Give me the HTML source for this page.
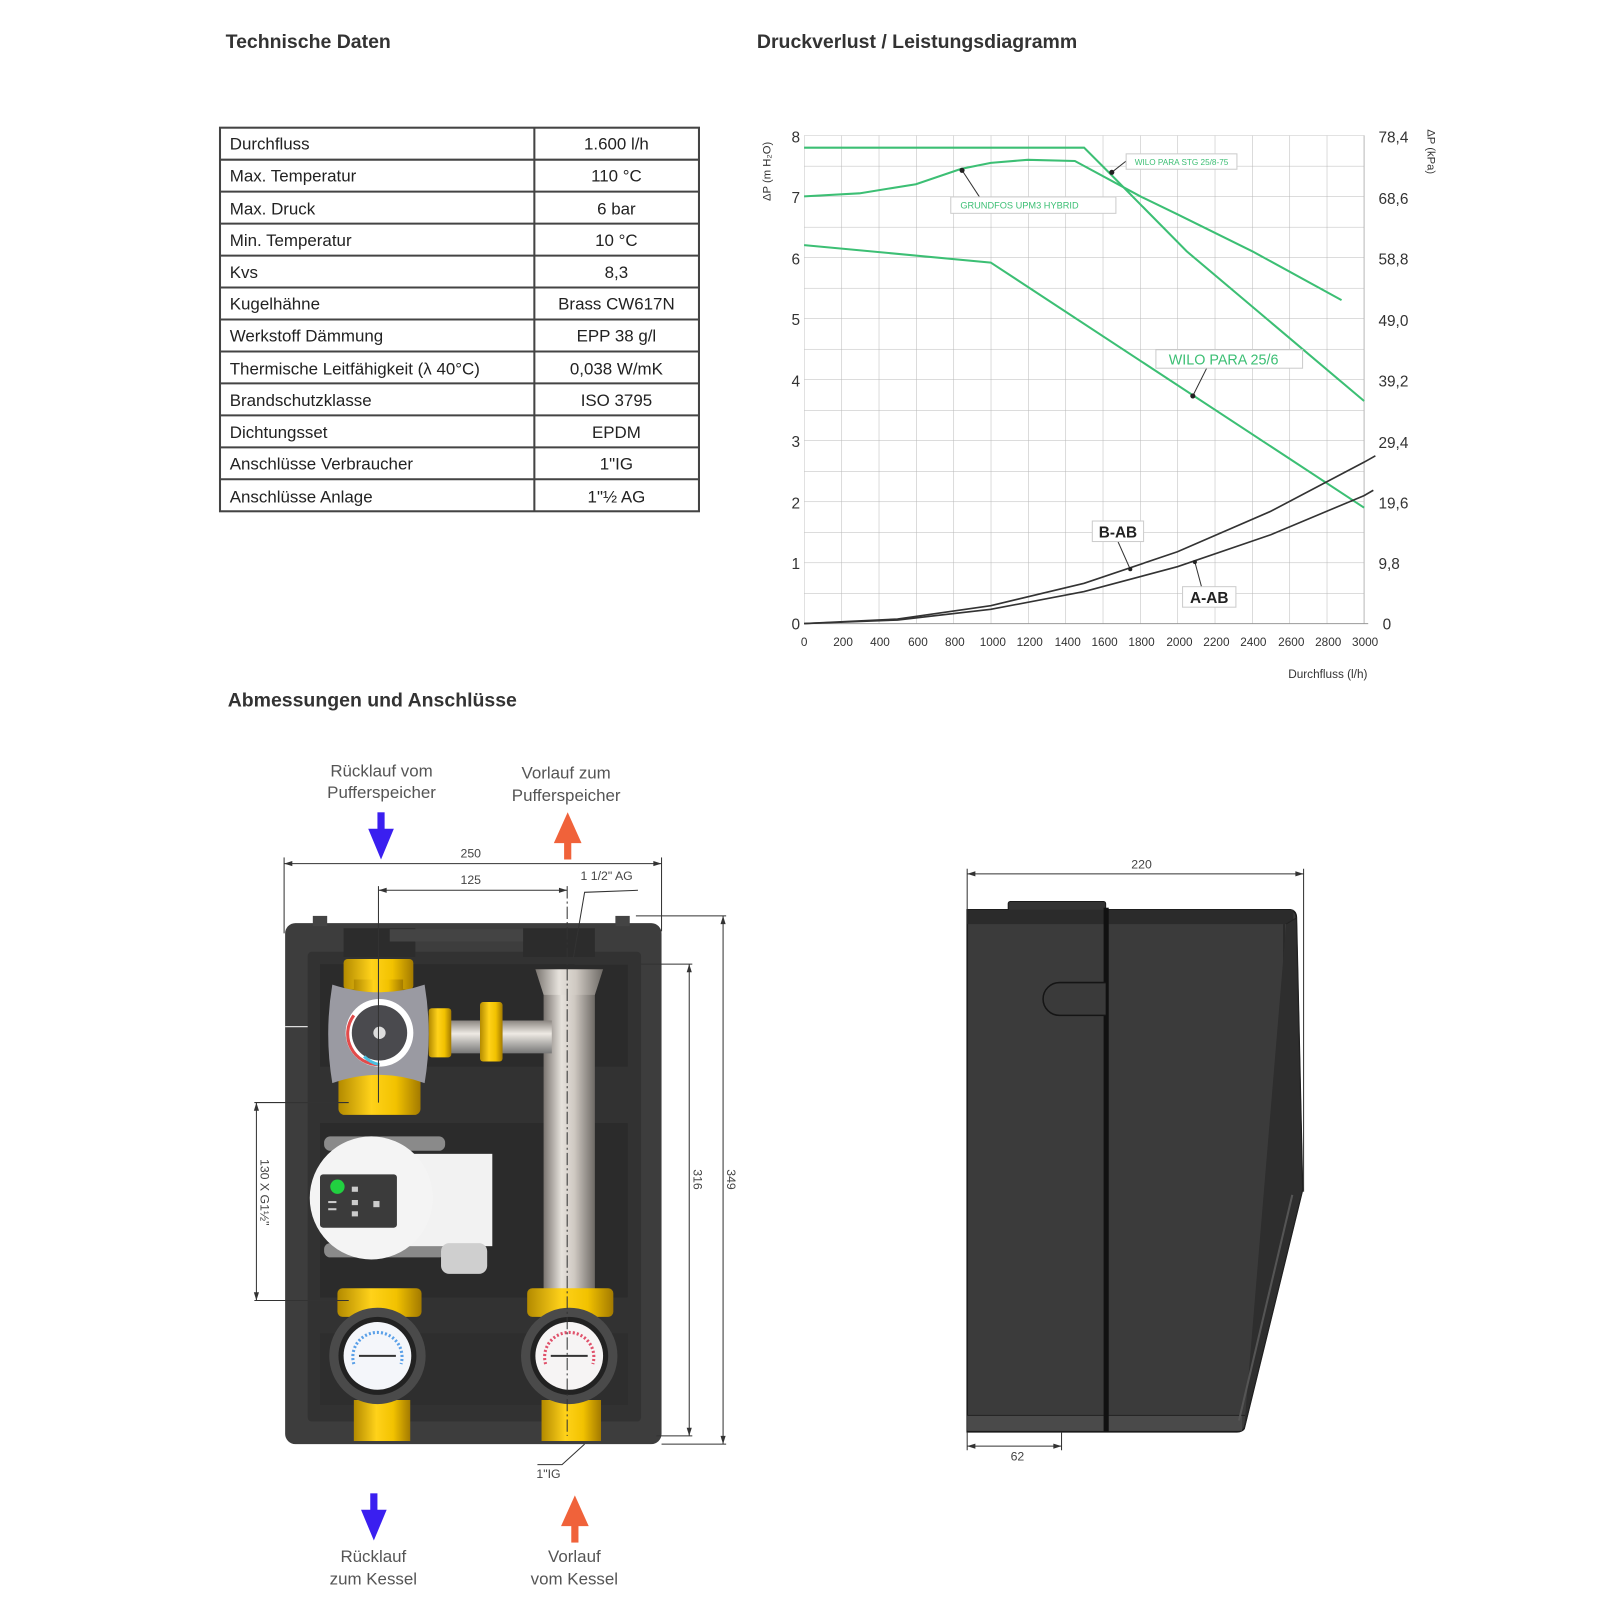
<!DOCTYPE html>
<html><head><meta charset="utf-8"><style>
html,body{margin:0;padding:0;background:#fff;}
svg{display:block;}
text{font-family:"Liberation Sans",sans-serif;}
</style></head><body>
<svg width="1600" height="1600" viewBox="0 0 1560 1560" xmlns="http://www.w3.org/2000/svg">
<defs>
<pattern id="grid" x="784" y="132" width="36.4" height="29.75" patternUnits="userSpaceOnUse">
<path d="M0 0V29.75M0 0H36.4" stroke="#b8b8b8" stroke-width="1" fill="none"/>
</pattern>
<linearGradient id="pipeV" x1="0" x2="1" y1="0" y2="0">
<stop offset="0" stop-color="#7a7570"/><stop offset="0.35" stop-color="#e6e2dc"/><stop offset="0.6" stop-color="#cfc9c2"/><stop offset="1" stop-color="#6e6a66"/>
</linearGradient>
<linearGradient id="pipeH" x1="0" x2="0" y1="0" y2="1">
<stop offset="0" stop-color="#8a8580"/><stop offset="0.4" stop-color="#eeeae4"/><stop offset="1" stop-color="#777"/>
</linearGradient>
<linearGradient id="brass" x1="0" x2="1" y1="0" y2="0">
<stop offset="0" stop-color="#b38a00"/><stop offset="0.4" stop-color="#ffd21a"/><stop offset="0.7" stop-color="#f2c200"/><stop offset="1" stop-color="#a37a00"/>
</linearGradient>
</defs>

<text x="220" y="47" font-size="19" font-weight="bold" fill="#333">Technische Daten</text>
<text x="738" y="47" font-size="19" font-weight="bold" fill="#333">Druckverlust / Leistungsdiagramm</text>
<text x="222" y="689" font-size="19" font-weight="bold" fill="#333">Abmessungen und Anschlüsse</text>

<g font-size="16.5" fill="#222">
<rect x="214.5" y="124.5" width="467" height="374" fill="#fff" stroke="#444" stroke-width="2"/>
<line x1="521" y1="124" x2="521" y2="498" stroke="#444" stroke-width="2"/>
<g stroke="#444" stroke-width="2">
<line x1="214" x2="682" y1="155.7" y2="155.7"/><line x1="214" x2="682" y1="186.8" y2="186.8"/>
<line x1="214" x2="682" y1="218" y2="218"/><line x1="214" x2="682" y1="249.2" y2="249.2"/>
<line x1="214" x2="682" y1="280.3" y2="280.3"/><line x1="214" x2="682" y1="311.5" y2="311.5"/>
<line x1="214" x2="682" y1="342.7" y2="342.7"/><line x1="214" x2="682" y1="373.8" y2="373.8"/>
<line x1="214" x2="682" y1="405" y2="405"/><line x1="214" x2="682" y1="436.2" y2="436.2"/>
<line x1="214" x2="682" y1="467.3" y2="467.3"/>
</g>
<g>
<text x="224" y="146">Durchfluss</text><text x="224" y="177">Max. Temperatur</text>
<text x="224" y="209">Max. Druck</text><text x="224" y="240">Min. Temperatur</text>
<text x="224" y="271">Kvs</text><text x="224" y="302">Kugelhähne</text>
<text x="224" y="333">Werkstoff Dämmung</text><text x="224" y="365">Thermische Leitfähigkeit (λ 40°C)</text>
<text x="224" y="396">Brandschutzklasse</text><text x="224" y="427">Dichtungsset</text>
<text x="224" y="458">Anschlüsse Verbraucher</text><text x="224" y="490">Anschlüsse Anlage</text>
</g>
<g text-anchor="middle">
<text x="601" y="146">1.600 l/h</text><text x="601" y="177">110 °C</text>
<text x="601" y="209">6 bar</text><text x="601" y="240">10 °C</text>
<text x="601" y="271">8,3</text><text x="601" y="302">Brass CW617N</text>
<text x="601" y="333">EPP 38 g/l</text><text x="601" y="365">0,038 W/mK</text>
<text x="601" y="396">ISO 3795</text><text x="601" y="427">EPDM</text>
<text x="601" y="458">1"IG</text><text x="601" y="490">1"½ AG</text>
</g>
</g>

<rect x="784" y="132" width="546" height="476" fill="url(#grid)"/>
<line x1="1330" y1="132" x2="1330" y2="608" stroke="#b8b8b8"/>
<line x1="784" y1="608" x2="1334" y2="608" stroke="#999"/>
<g font-size="15" fill="#333" text-anchor="end">
<text x="780" y="139">8</text><text x="780" y="198">7</text><text x="780" y="258">6</text><text x="780" y="317">5</text>
<text x="780" y="377">4</text><text x="780" y="436">3</text><text x="780" y="496">2</text><text x="780" y="555">1</text><text x="780" y="614">0</text>
</g>
<g font-size="15" fill="#333">
<text x="1344" y="139">78,4</text><text x="1344" y="199">68,6</text><text x="1344" y="258">58,8</text><text x="1344" y="318">49,0</text>
<text x="1344" y="377">39,2</text><text x="1344" y="437">29,4</text><text x="1344" y="496">19,6</text><text x="1344" y="555">9,8</text><text x="1348" y="614">0</text>
</g>
<g font-size="11.5" fill="#333" text-anchor="middle">
<text x="784" y="630">0</text><text x="822" y="630">200</text><text x="858" y="630">400</text><text x="895" y="630">600</text>
<text x="931" y="630">800</text><text x="968" y="630">1000</text><text x="1004" y="630">1200</text><text x="1041" y="630">1400</text>
<text x="1077" y="630">1600</text><text x="1113" y="630">1800</text><text x="1150" y="630">2000</text><text x="1186" y="630">2200</text>
<text x="1222" y="630">2400</text><text x="1259" y="630">2600</text><text x="1295" y="630">2800</text><text x="1331" y="630">3000</text>
</g>
<text x="1256" y="661" font-size="11.5" fill="#333">Durchfluss  (l/h)</text>
<text transform="translate(751,196) rotate(-90)" font-size="11" fill="#333">ΔP (m H₂O)</text>
<text transform="translate(1392,126) rotate(90)" font-size="11" fill="#333">ΔP (kPa)</text>

<g fill="none" stroke="#3cbf74" stroke-width="2">
<polyline points="784,144 1057,144 1084,171 1157,245 1330,391"/>
<polyline points="784,191.5 838,188.5 893,179.6 937,164.7 966,158.8 1002,155.8 1048,157 1112,191.5 1148,209 1221,245 1308,292.6"/>
<polyline points="784,239 966,256 1330,495"/>
</g>
<g fill="none" stroke="#333" stroke-width="1.6">
<polyline points="784,608 875,603.6 966,590.5 1057,568.7 1148,538 1239,498.5 1330,450.6 1341,444.4"/>
<polyline points="784,608 875,604.5 966,594.1 1057,576.8 1148,552.5 1239,521.4 1330,483.2 1339,478"/>
</g>
<g stroke="#333" stroke-width="1" fill="none">
<line x1="938" y1="166" x2="955" y2="192"/><line x1="1084" y1="168" x2="1098" y2="157"/>
<line x1="1163" y1="386" x2="1177" y2="358"/><line x1="1102" y1="555" x2="1090" y2="528"/>
<line x1="1165" y1="548" x2="1172" y2="574"/>
</g>
<g fill="#222"><circle cx="938" cy="166" r="2.5"/><circle cx="1084" cy="168" r="2.5"/><circle cx="1163" cy="386" r="2.5"/><circle cx="1102" cy="555" r="2"/><circle cx="1165" cy="548" r="2"/></g>
<rect x="1098" y="150" width="108" height="15" fill="#fff" stroke="#ccc"/>
<text x="1152" y="161" font-size="8" fill="#3cbf74" text-anchor="middle">WILO PARA STG 25/8-75</text>
<rect x="927" y="192" width="161" height="16" fill="#fff" stroke="#ccc"/>
<text x="994" y="203.5" font-size="9" fill="#3cbf74" text-anchor="middle">GRUNDFOS UPM3 HYBRID</text>
<rect x="1127" y="341" width="143" height="18" fill="#fff" stroke="#ccc"/>
<text x="1193" y="355.5" font-size="14" fill="#3cbf74" text-anchor="middle">WILO PARA 25/6</text>
<rect x="1065" y="508" width="50" height="20" fill="#fff" stroke="#ccc"/>
<text x="1090" y="524" font-size="15" font-weight="bold" fill="#222" text-anchor="middle">B-AB</text>
<rect x="1153" y="572" width="52" height="20" fill="#fff" stroke="#ccc"/>
<text x="1179" y="588" font-size="15" font-weight="bold" fill="#222" text-anchor="middle">A-AB</text>

<g font-size="16.5" fill="#555" text-anchor="middle">
<text x="372" y="757">Rücklauf vom</text><text x="372" y="778">Pufferspeicher</text>
<text x="552" y="759">Vorlauf zum</text><text x="552" y="781">Pufferspeicher</text>
<text x="364" y="1523">Rücklauf</text><text x="364" y="1545">zum Kessel</text>
<text x="560" y="1523">Vorlauf</text><text x="560" y="1545">vom Kessel</text>
</g>
<g fill="#3a1ff0"><rect x="368" y="792" width="7" height="22"/><polygon points="359,808 384,808 371.5,838"/>
<rect x="361" y="1456" width="7" height="22"/><polygon points="352,1472 377,1472 364.5,1502"/></g>
<g fill="#f0623a"><rect x="550" y="814" width="7" height="24"/><polygon points="540,822 567,822 553.5,792"/>
<rect x="557" y="1480" width="7" height="24"/><polygon points="547,1488 574,1488 560.5,1458"/></g>

<rect x="278" y="900" width="367" height="508" rx="10" fill="#3d3d3d"/>
<rect x="305" y="893" width="14" height="10" fill="#444"/><rect x="600" y="893" width="14" height="10" fill="#444"/>
<rect x="300" y="928" width="325" height="458" rx="4" fill="#323232"/>
<rect x="312" y="940" width="300" height="100" fill="#2b2b2b"/>
<rect x="312" y="1095" width="300" height="170" fill="#2b2b2b"/>
<rect x="312" y="1300" width="300" height="70" fill="#2e2e2e"/>
<rect x="335" y="905" width="70" height="28" fill="#2c2c2c"/><rect x="510" y="905" width="70" height="28" fill="#2c2c2c"/>
<rect x="380" y="906" width="130" height="12" fill="#444"/>
<line x1="278" y1="1001" x2="300" y2="1001" stroke="#ddd" stroke-width="1.2"/>

<rect x="530" y="948" width="50" height="322" fill="url(#pipeV)"/>
<path d="M522,945 L588,945 L580,970 L530,970 Z" fill="url(#pipeV)"/>
<rect x="438" y="995" width="100" height="32" fill="url(#pipeH)"/>
<rect x="468" y="977" width="22" height="58" rx="3" fill="url(#brass)"/>
<rect x="418" y="983" width="22" height="48" rx="3" fill="url(#brass)"/>
<rect x="335" y="935" width="68" height="30" rx="4" fill="url(#brass)"/>
<rect x="345" y="955" width="48" height="25" fill="url(#brass)"/>
<rect x="345" y="1030" width="48" height="20" fill="url(#brass)"/>
<rect x="330" y="1045" width="80" height="42" rx="6" fill="url(#brass)"/>
<path d="M324,960 Q370,975 414,960 Q422,1008 414,1056 Q370,1040 324,1056 Q316,1008 324,960 Z" fill="#9a9aa2"/>
<circle cx="370" cy="1007" r="33" fill="#fff"/>
<circle cx="370" cy="1007" r="27" fill="#4a4a4e"/>
<path d="M345,990 A30,30 0 0 0 370,1038" fill="none" stroke="#e24b4b" stroke-width="3"/>
<path d="M355,1030 A30,30 0 0 0 370,1038" fill="none" stroke="#4cc0e0" stroke-width="3"/>
<circle cx="370" cy="1007" r="6" fill="#ddd"/>

<rect x="316" y="1108" width="118" height="14" rx="6" fill="#8a8a8a"/>
<rect x="316" y="1212" width="118" height="14" rx="6" fill="#8a8a8a"/>
<rect x="355" y="1125" width="125" height="90" fill="#f2f2f2"/>
<circle cx="362" cy="1168" r="60" fill="#f4f4f4"/>
<rect x="430" y="1212" width="45" height="30" rx="8" fill="#cfcfcf"/>
<rect x="312" y="1145" width="75" height="52" rx="3" fill="#3b3b3b"/>
<circle cx="329" cy="1157" r="7" fill="#21d040"/>
<g fill="#ccc"><rect x="343" y="1157" width="6" height="5"/><rect x="343" y="1170" width="6" height="5"/><rect x="343" y="1181" width="6" height="5"/><rect x="364" y="1171" width="6" height="6"/><rect x="320" y="1171" width="8" height="2"/><rect x="320" y="1178" width="8" height="2"/></g>

<rect x="329" y="1256" width="82" height="28" rx="5" fill="url(#brass)"/>
<rect x="514" y="1256" width="84" height="28" rx="5" fill="url(#brass)"/>
<rect x="345" y="1365" width="55" height="40" fill="url(#brass)"/>
<rect x="528" y="1365" width="58" height="40" fill="url(#brass)"/>
<g>
<circle cx="368" cy="1322" r="47" fill="#4a4a4a"/>
<circle cx="368" cy="1322" r="38" fill="#222"/>
<circle cx="368" cy="1322" r="33" fill="#f4f6fa"/>
<path d="M345,1330 A24,24 0 1 1 391,1330" fill="none" stroke="#5aa0e8" stroke-width="3" stroke-dasharray="2 2"/>
<line x1="350" y1="1322" x2="386" y2="1322" stroke="#333" stroke-width="2"/>
<circle cx="555" cy="1322" r="47" fill="#4a4a4a"/>
<circle cx="555" cy="1322" r="38" fill="#222"/>
<circle cx="555" cy="1322" r="33" fill="#f6f4f4"/>
<path d="M532,1330 A24,24 0 1 1 578,1330" fill="none" stroke="#e0506a" stroke-width="3" stroke-dasharray="2 2"/>
<line x1="537" y1="1322" x2="573" y2="1322" stroke="#333" stroke-width="2"/>
</g>

<g stroke="#333" stroke-width="1" fill="none">
<line x1="277" y1="842" x2="645" y2="842"/><line x1="277" y1="836" x2="277" y2="910"/><line x1="645" y1="836" x2="645" y2="908"/>
<line x1="369" y1="868" x2="553" y2="868"/><line x1="369" y1="864" x2="369" y2="1075"/><line x1="553" y1="864" x2="553" y2="1400" stroke-dasharray="12 3 2 3"/>
<polyline points="622,868 570,870 558,940"/>
<line x1="620" y1="893" x2="708" y2="893"/><line x1="705" y1="893" x2="705" y2="1408"/><line x1="645" y1="1408" x2="708" y2="1408"/>
<line x1="560" y1="940" x2="675" y2="940"/><line x1="672" y1="940" x2="672" y2="1400"/><line x1="640" y1="1400" x2="675" y2="1400"/>
<line x1="250" y1="1075" x2="250" y2="1268"/><line x1="248" y1="1075" x2="340" y2="1075"/><line x1="248" y1="1268" x2="340" y2="1268"/>
<polyline points="570,1408 548,1428 524,1428"/>
</g>
<g fill="#333">
<polygon points="277,842 285,839.5 285,844.5"/><polygon points="645,842 637,839.5 637,844.5"/>
<polygon points="369,868 377,865.5 377,870.5"/><polygon points="553,868 545,865.5 545,870.5"/>
<polygon points="705,893 702.5,901 707.5,901"/><polygon points="705,1408 702.5,1400 707.5,1400"/>
<polygon points="672,940 669.5,948 674.5,948"/><polygon points="672,1400 669.5,1392 674.5,1392"/>
<polygon points="250,1075 247.5,1083 252.5,1083"/><polygon points="250,1268 247.5,1260 252.5,1260"/>
</g>
<g font-size="12" fill="#444">
<text x="459" y="836" text-anchor="middle">250</text>
<text x="459" y="862" text-anchor="middle">125</text>
<text x="566" y="858">1 1/2" AG</text>
<text x="523" y="1441">1"IG</text>
<text transform="translate(676,1140) rotate(90)">316</text>
<text transform="translate(709,1140) rotate(90)">349</text>
<text transform="translate(254,1130) rotate(90)">130 X G1½"</text>
</g>

<path d="M943,887 L1258,887 Q1264,888 1264,895 L1270,1160 L1213,1393 Q1211,1396 1206,1396 L943,1396 Z" fill="#3b3b3b" stroke="#1a1a1a" stroke-width="1.5"/>
<rect x="983" y="879" width="95" height="9" rx="2" fill="#333" stroke="#1a1a1a"/>
<rect x="943" y="887" width="318" height="14" fill="#2b2b2b"/>
<rect x="943" y="1380" width="268" height="15" fill="#4a4a4a"/>
<line x1="943" y1="1380" x2="1214" y2="1380" stroke="#222"/>
<line x1="1252" y1="901" x2="1252" y2="1160" stroke="#2a2a2a" stroke-width="2"/>
<path d="M1254,901 L1264,895 L1270,1160 L1213,1393" fill="#2e2e2e" stroke="#222"/>
<path d="M1260,1165 L1208,1385" stroke="#555" stroke-width="2"/>
<rect x="1076" y="885" width="5" height="511" fill="#111"/>
<path d="M1078,958 L1033,958 A16,16 0 0 0 1033,990 L1078,990" fill="#3a3a3a" stroke="#151515" stroke-width="1.5"/>
<g stroke="#333" stroke-width="1">
<line x1="943" y1="852" x2="1271" y2="852"/><line x1="943" y1="847" x2="943" y2="887"/><line x1="1271" y1="847" x2="1271" y2="1162"/>
<line x1="943" y1="1410" x2="1035" y2="1410"/><line x1="943" y1="1396" x2="943" y2="1414"/><line x1="1035" y1="1396" x2="1035" y2="1414"/>
</g>
<g fill="#333"><polygon points="943,852 951,849.5 951,854.5"/><polygon points="1271,852 1263,849.5 1263,854.5"/>
<polygon points="943,1410 951,1407.5 951,1412.5"/><polygon points="1035,1410 1027,1407.5 1027,1412.5"/></g>
<text x="1113" y="847" font-size="12" fill="#444" text-anchor="middle">220</text>
<text x="992" y="1424" font-size="12" fill="#444" text-anchor="middle">62</text>
</svg>
</body></html>
